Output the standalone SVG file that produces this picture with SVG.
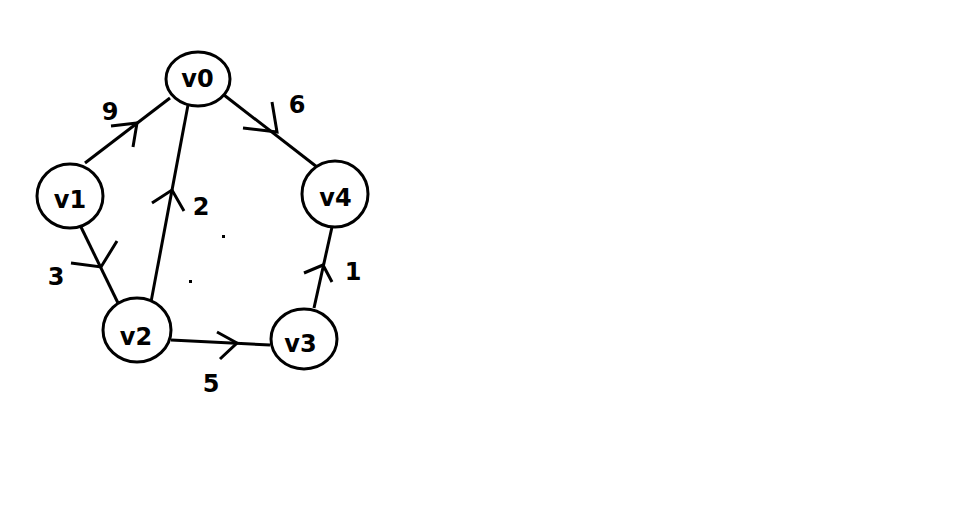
<svg xmlns="http://www.w3.org/2000/svg" width="959" height="512" viewBox="0 0 959 512">
<style>
.node ellipse{fill:#fff;stroke:#000;stroke-width:3}
.lbl{font-family:"DejaVu Sans",sans-serif;font-weight:bold;font-size:24px;fill:#000;text-anchor:middle}
.edge line,.edge path{stroke:#000;stroke-width:3;fill:none;stroke-linecap:butt}
</style>
<rect width="959" height="512" fill="#fff"/>
<g id="connectors" class="edge">
<line x1="85" y1="163" x2="170" y2="98"/>
<path d="M111,126 L137,123 L133,147"/>
<line x1="224" y1="95" x2="317" y2="167"/>
<path d="M243,128 L277,132 L272,102"/>
<line x1="188" y1="105" x2="151" y2="302"/>
<path d="M152,203 L172,190 L184,211"/>
<line x1="80" y1="225" x2="118" y2="303"/>
<path d="M71,263 L101,267 L117,241"/>
<line x1="171" y1="340" x2="270" y2="345"/>
<path d="M217,332 L237,343 L220,359"/>
<line x1="314" y1="308" x2="332" y2="227"/>
<path d="M304,273 L323,265 L332,282"/>
</g>
<g id="v0" class="node"><ellipse cx="198" cy="79" rx="32" ry="27"/><text class="lbl" x="197.5" y="87">v0</text></g>
<g id="v1" class="node"><ellipse cx="70" cy="196" rx="33" ry="32"/><text class="lbl" x="70" y="208">v1</text></g>
<g id="v4" class="node"><ellipse cx="335" cy="194" rx="33" ry="33"/><text class="lbl" x="335.5" y="206">v4</text></g>
<g id="v2" class="node"><ellipse cx="137" cy="330" rx="34" ry="32"/><text class="lbl" x="136" y="345">v2</text></g>
<g id="v3" class="node"><ellipse cx="304" cy="339" rx="33" ry="30"/><text class="lbl" x="300.5" y="352">v3</text></g>
<g id="weights">
<text class="lbl" x="110" y="120">9</text>
<text class="lbl" x="297" y="113">6</text>
<text class="lbl" x="201" y="215">2</text>
<text class="lbl" x="56" y="285">3</text>
<text class="lbl" x="353" y="280">1</text>
<text class="lbl" x="211" y="392">5</text>
</g>
<rect x="222" y="235" width="3" height="3" fill="#000"/>
<rect x="189" y="280" width="3" height="3" fill="#000"/>
</svg>
